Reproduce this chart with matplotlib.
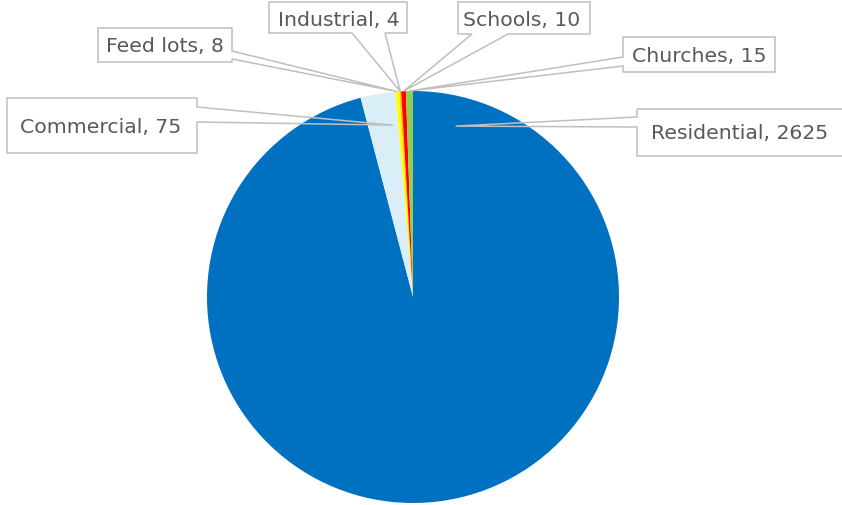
import numpy as np
import matplotlib
matplotlib.use("Agg")
import matplotlib.pyplot as plt
from matplotlib.patches import Polygon

# data, clockwise from 12 o'clock
categories = ["Residential", "Commercial", "Feed lots", "Industrial", "Schools", "Churches"]
values = [2625, 75, 8, 4, 10, 15]
colors = ["#0070C0", "#DAEEF8", "#FFFF00", "#FFC000", "#FF0000", "#92D050"]

W, H = 842, 506
fig = plt.figure(figsize=(W / 100, H / 100), dpi=100)

# pie centre (413, 298) px, radius 206 px
cx, cy, r = 413, 298, 206
ax = fig.add_axes([(cx - r) / W, (H - cy - r) / H, 2 * r / W, 2 * r / H])
wedges, _ = ax.pie(values, colors=colors, startangle=90, counterclock=False,
                   radius=1.0, wedgeprops=dict(linewidth=0))
ax.set_xlim(-1, 1)
ax.set_ylim(-1, 1)
ax.set_aspect("equal")

# overlay in image pixels (y down) for the callouts
ov = fig.add_axes([0, 0, 1, 1], facecolor="none")
ov.set_xlim(0, W)
ov.set_ylim(H, 0)
ov.axis("off")

# callout boxes: (x0, y0, x1, y1), side the pointer leaves from, pointer base, text centre
callouts = {
    "Residential": ((637, 110, 850, 157), "left", (118, 128), (740, 133)),
    "Commercial": ((7, 99, 197, 154), "right", (108, 123), (101, 127)),
    "Feed lots": ((98, 29, 232, 63), "right", (52, 60), (165, 46)),
    "Industrial": ((269, 3, 407, 34), "bottom", (352, 385), (339, 20)),
    "Schools": ((458, 3, 590, 35), "bottom", (472, 508), (522, 20)),
    "Churches": ((623, 38, 775, 73), "left", (58, 67), (699, 56)),
}
# where the pointer touches the pie: (angle, radius); None -> slice middle
anchor = {
    "Residential": (76, 0.855),
    "Commercial": (96.6, 0.84),
    "Feed lots": (None, 1.0),
    "Industrial": (None, 1.0),
    "Schools": (None, 1.0),
    "Churches": (None, 1.0),
}


def outline(box, side, base, tip):
    x0, y0, x1, y1 = box
    b0, b1 = base
    if side == "right":
        return [(x0, y0), (x1, y0), (x1, b0), tip, (x1, b1), (x1, y1), (x0, y1)]
    if side == "left":
        return [(x0, y0), (x1, y0), (x1, y1), (x0, y1), (x0, b1), tip, (x0, b0)]
    return [(x0, y0), (x1, y0), (x1, y1), (b1, y1), tip, (b0, y1), (x0, y1)]


for w, name, val in zip(wedges, categories, values):
    ang, rad = anchor[name]
    if ang is None:
        ang = (w.theta1 + w.theta2) / 2
    a = np.deg2rad(ang)
    tip = (cx + r * rad * np.cos(a), cy - r * rad * np.sin(a))
    box, side, base, tc = callouts[name]
    ov.add_patch(Polygon(outline(box, side, base, tip), closed=True,
                         fc="none", ec="#BFBFBF", lw=1.1, joinstyle="miter"))
    ov.text(tc[0], tc[1], f"{name}, {val}", ha="center", va="center",
            fontsize=14.7, color="#595959", family=["DejaVu Sans"])

fig.savefig("out.png", dpi=100)
